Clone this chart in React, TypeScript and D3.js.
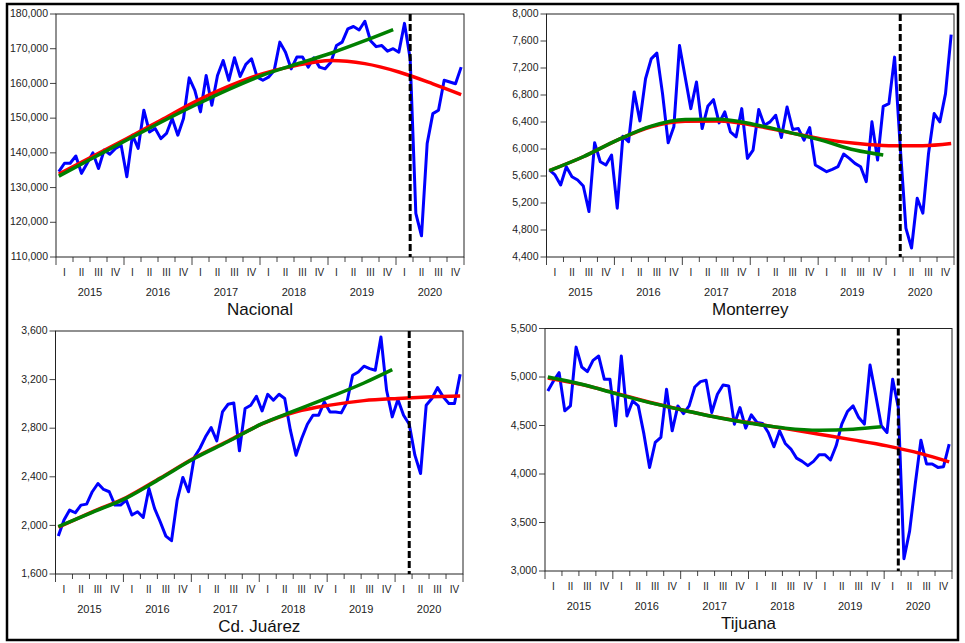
import { useEffect, useRef } from 'react';
import * as d3 from 'd3';

// categories
const years = ['2015', '2016', '2017', '2018', '2019', '2020'];
const quarters = ['I', 'II', 'III', 'IV'];
const breakMonth = 62; // march 2020, dashed line

const redMonths = [0, 6, 12, 18, 24, 30, 36, 42, 48, 54, 60, 66, 71];
const greenMonths = [0, 6, 12, 18, 24, 30, 36, 42, 48, 54, 59];

// Nacional
const nacional = [
  134600, 137000, 137000, 139100, 134100, 137000, 140000, 135500, 140800, 139600, 141300, 142200,
  133100, 145100, 141300, 152300, 146000, 147000, 144100, 145600, 149900, 145100, 149900, 161600,
  158000, 151800, 162300, 153700, 162300, 166600, 160900, 167400, 162000, 165500, 167100, 161800,
  160900, 161800, 163700, 171900, 169000, 164200, 167600, 167600, 164700, 167400, 164700, 164200,
  166100, 170900, 171900, 175700, 176400, 175400, 177900, 172300, 170600, 170900, 169300, 170000,
  169000, 177300, 167100, 122600, 116100, 142700, 151300, 152300, 160900, 160400, 159900, 164700,
];
const nacionalRed = [133900, 139000, 144100, 149400, 154700, 159200, 162800, 165200, 166600, 165700, 163300, 159900, 156800];
const nacionalGreen = [133300, 138500, 143700, 148800, 153700, 158300, 162400, 165600, 168700, 172300, 175500];

// Monterrey
const monterrey = [
  5689, 5615, 5467, 5738, 5590, 5541, 5452, 5074, 6092, 5811, 5762, 5910,
  5123, 6190, 6107, 6844, 6416, 7041, 7336, 7420, 6820, 6092, 6328, 7533,
  7066, 6598, 6992, 6303, 6633, 6731, 6387, 6549, 6254, 6180, 6598, 5861,
  5984, 6584, 6352, 6402, 6500, 6170, 6623, 6289, 6303, 6131, 6318, 5762,
  5713, 5664, 5698, 5738, 5925, 5861, 5787, 5738, 5516, 6402, 5836, 6633,
  6672, 7361, 6033, 4828, 4533, 5270, 5049, 5934, 6525, 6402, 6820, 7695,
];
const monterreyRed = [5679, 5885, 6131, 6330, 6410, 6416, 6352, 6250, 6150, 6085, 6050, 6050, 6082];
const monterreyGreen = [5679, 5885, 6131, 6338, 6436, 6441, 6367, 6254, 6131, 5984, 5910];

// Cd. Juarez
const juarez = [
  1912, 2044, 2126, 2104, 2167, 2175, 2277, 2345, 2296, 2277, 2167, 2167,
  2208, 2085, 2112, 2066, 2304, 2140, 2030, 1912, 1874, 2208, 2395, 2277,
  2559, 2633, 2729, 2805, 2696, 2934, 2997, 3008, 2614, 2962, 2989, 3063,
  2942, 3079, 3030, 3079, 3044, 2784, 2578, 2715, 2833, 2907, 2907, 3016,
  2934, 2934, 2926, 3016, 3236, 3263, 3310, 3290, 3277, 3551, 3112, 2893,
  3036, 2907, 2833, 2578, 2427, 2989, 3044, 3134, 3058, 3003, 3003, 3244,
];
const juarezRed = [1985, 2112, 2230, 2390, 2555, 2695, 2835, 2935, 2990, 3027, 3045, 3058, 3066];
const juarezGreen = [1990, 2108, 2225, 2385, 2550, 2690, 2837, 2948, 3057, 3172, 3282];

// Tijuana
const tijuana = [
  4856, 4959, 5045, 4651, 4702, 5308, 5103, 5055, 5171, 5216, 4976, 4976,
  4497, 5216, 4599, 4753, 4702, 4411, 4068, 4325, 4377, 4873, 4445, 4702,
  4623, 4702, 4897, 4952, 4966, 4634, 4822, 4918, 4908, 4514, 4685, 4473,
  4610, 4531, 4521, 4428, 4281, 4445, 4315, 4257, 4164, 4130, 4086, 4130,
  4199, 4199, 4144, 4291, 4514, 4644, 4702, 4582, 4514, 5123, 4815, 4497,
  4428, 4976, 4685, 3127, 3411, 3897, 4349, 4103, 4103, 4068, 4075, 4308,
];
const tijuanaRed = [4990, 4922, 4832, 4740, 4658, 4585, 4525, 4468, 4410, 4352, 4290, 4210, 4125];
const tijuanaGreen = [5000, 4925, 4829, 4736, 4658, 4582, 4521, 4473, 4452, 4462, 4486];

const W = 965, H = 643;
const FONT = '"Liberation Sans", Arial, sans-serif';

const panels = [
  { title: 'Nacional', values: nacional, red: nacionalRed, green: nacionalGreen, domain: [110000, 180000], step: 10000, left: 56, right: 464, top: 14, bottom: 257 },
  { title: 'Monterrey', values: monterrey, red: monterreyRed, green: monterreyGreen, domain: [4400, 8000], step: 400, left: 546.5, right: 954, top: 14, bottom: 257 },
  { title: 'Cd. Juárez', values: juarez, red: juarezRed, green: juarezGreen, domain: [1600, 3600], step: 400, left: 55.5, right: 463, top: 331, bottom: 574 },
  { title: 'Tijuana', values: tijuana, red: tijuanaRed, green: tijuanaGreen, domain: [3000, 5500], step: 500, left: 545, right: 952, top: 328.5, bottom: 571 },
];

function drawPanel(svg, p) {
  const x = d3.scaleLinear().domain([0, years.length * 12]).range([p.left, p.right]);
  const y = d3.scaleLinear().domain(p.domain).range([p.bottom, p.top]);
  const g = svg.append('g');

  // y axis ticks + labels
  const yTicks = d3.range(p.domain[0], p.domain[1] + p.step / 2, p.step);
  g.selectAll('.ytick')
    .data(yTicks)
    .enter().append('line')
    .attr('x1', p.left - 6).attr('x2', p.left)
    .attr('y1', d => y(d)).attr('y2', d => y(d))
    .attr('stroke', '#444').attr('stroke-width', 1);
  g.selectAll('.ylabel')
    .data(yTicks)
    .enter().append('text')
    .attr('x', p.left - 8)
    .attr('y', d => y(d))
    .attr('dy', '0.3em')
    .attr('text-anchor', 'end')
    .style('font-family', FONT).style('font-size', '10.5px').attr('fill', '#222')
    .text(d => d3.format(',')(d));

  // x axis: ticks at every quarter, longer at year starts
  const qTicks = d3.range(0, years.length * 12 + 1, 3);
  g.selectAll('.xtick')
    .data(qTicks)
    .enter().append('line')
    .attr('x1', d => x(d)).attr('x2', d => x(d))
    .attr('y1', p.bottom).attr('y2', d => p.bottom + (d % 12 === 0 ? 8 : 5))
    .attr('stroke', '#444').attr('stroke-width', 1);

  const qLabels = d3.range(years.length * 4);
  g.selectAll('.qlabel')
    .data(qLabels)
    .enter().append('text')
    .attr('x', d => x(d * 3 + 1.5))
    .attr('y', p.bottom + 19)
    .attr('text-anchor', 'middle')
    .style('font-family', FONT).style('font-size', '10px').attr('fill', '#222')
    .text(d => quarters[d % 4]);

  g.selectAll('.ylab')
    .data(years)
    .enter().append('text')
    .attr('x', (d, i) => x(i * 12 + 6))
    .attr('y', p.bottom + 39)
    .attr('text-anchor', 'middle')
    .style('font-family', FONT).style('font-size', '11px').attr('fill', '#222')
    .text(d => d);

  g.append('text')
    .attr('x', (p.left + p.right) / 2)
    .attr('y', p.bottom + 58)
    .attr('text-anchor', 'middle')
    .style('font-family', FONT).style('font-size', '17px').attr('fill', '#111')
    .text(p.title);

  // frame of the plot
  g.append('rect')
    .attr('x', p.left).attr('y', p.top)
    .attr('width', p.right - p.left).attr('height', p.bottom - p.top)
    .attr('fill', 'none').attr('stroke', '#222').attr('stroke-width', 1);

  const dataLine = d3.line().x((d, i) => x(i + 0.5)).y(d => y(d));
  g.append('path')
    .attr('d', dataLine(p.values))
    .attr('fill', 'none').attr('stroke', '#0000ff')
    .attr('stroke-width', 3).attr('stroke-linejoin', 'round');

  const trendLine = d3.line().x(d => x(d[0] + 0.5)).y(d => y(d[1])).curve(d3.curveMonotoneX);
  g.append('path')
    .attr('d', trendLine(redMonths.map((m, i) => [m, p.red[i]])))
    .attr('fill', 'none').attr('stroke', '#ff0000').attr('stroke-width', 3.5);
  g.append('path')
    .attr('d', trendLine(greenMonths.map((m, i) => [m, p.green[i]])))
    .attr('fill', 'none').attr('stroke', '#008000').attr('stroke-width', 3.5);

  g.append('line')
    .attr('x1', x(breakMonth + 0.5)).attr('x2', x(breakMonth + 0.5))
    .attr('y1', p.top).attr('y2', p.bottom)
    .attr('stroke', '#000').attr('stroke-width', 3)
    .attr('stroke-dasharray', '7,3');
}

const App = () => {
  const ref = useRef(null);

  useEffect(() => {
    const svg = d3.select(ref.current);
    svg.selectAll('*').remove();
    svg.append('rect').attr('width', W).attr('height', H).attr('fill', '#fff');
    svg.append('rect')
      .attr('x', 7).attr('y', 4).attr('width', 951).attr('height', 636)
      .attr('fill', 'none').attr('stroke', '#000').attr('stroke-width', 2.5);
    panels.forEach(p => drawPanel(svg, p));
  }, []);

  return (
    <svg ref={ref} width={W} height={H} style={{ position: 'absolute', left: 0, top: 0 }} />
  );
};

export default App;
